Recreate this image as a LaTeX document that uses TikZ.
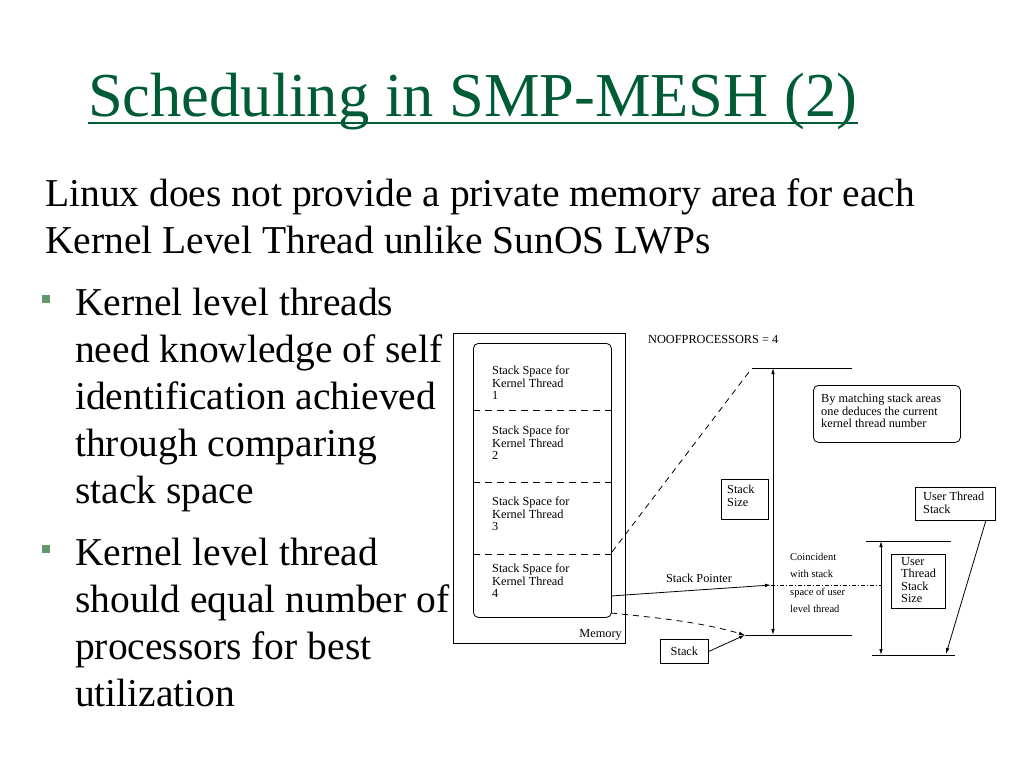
\documentclass[tikz,border=0pt]{standalone}
\usepackage{fontspec}
\setmainfont{Liberation Serif}
\usetikzlibrary{arrows.meta}
\definecolor{titlegreen}{RGB}{0,92,52}
\definecolor{bulletgreen}{RGB}{100,150,110}
\tikzset{
  ttl/.style={anchor=base west, inner sep=0pt, text=titlegreen, font=\fontsize{62.5}{70}\selectfont},
  body/.style={anchor=base west, inner sep=0pt, font=\fontsize{39.5}{47}\selectfont},
  bul/.style={fill=bulletgreen, minimum size=8.5pt, inner sep=0pt},
  dtext/.style={anchor=north west, inner sep=0pt, align=left, font=\fontsize{12.3}{12.5}\selectfont},
  dbox/.style={draw, line width=0.8pt, inner sep=0pt, anchor=north west},
  dline/.style={line width=0.8pt},
  tip/.style={-{Latex[length=6pt,width=3.5pt]}},
  ttip/.style={{Latex[length=6pt,width=3.5pt]}-{Latex[length=6pt,width=3.5pt]}},
}
\begin{document}
\begin{tikzpicture}[x=1pt,y=-1pt]
\useasboundingbox (0,0) rectangle (1024,768);
% title
\node[ttl] (title) at (88,116) {Scheduling in SMP-MESH (2)};
\coordinate (ul1) at (88,123);
\draw[titlegreen, line width=2.5pt] (ul1) -- (ul1 -| title.east);
% subtitle
\node[body] (sub1) at (45,206) {Linux does not provide a private memory area for each};
\node[body] (sub2) at (45,253) {Kernel Level Thread unlike SunOS LWPs};
% bullets
\node[bul] (b1) at (46,299) {};
\node[body] (t11) at (75,315) {Kernel level threads};
\node[body] (t12) at (75,362) {need knowledge of self};
\node[body] (t13) at (75,409) {identification achieved};
\node[body] (t14) at (75,456) {through comparing};
\node[body] (t15) at (75,503) {stack space};
\node[bul] (b2) at (46,549) {};
\node[body] (t21) at (75,565) {Kernel level thread};
\node[body] (t22) at (75,612) {should equal number of};
\node[body] (t23) at (75,659) {processors for best};
\node[body] (t24) at (75,706) {utilization};
% memory box
\node[dbox, minimum width=172pt, minimum height=310pt] (mem) at (453,333) {};
\node[dtext, anchor=south east] (memlbl) at (622,640) {Memory};
\node[dbox, rounded corners=5pt, minimum width=138pt, minimum height=274pt] (inner) at (473,343) {};
\draw[dline, dashed, dash pattern=on 7pt off 5pt] (473,410) -- (611,410);
\draw[dline, dashed, dash pattern=on 7pt off 5pt] (473,482) -- (611,482);
\draw[dline, dashed, dash pattern=on 7pt off 5pt] (473,554) -- (611,554);
\node[dtext] (k1) at (492,366) {Stack Space for\\Kernel Thread\\1};
\node[dtext] (k2) at (492,426) {Stack Space for\\Kernel Thread\\2};
\node[dtext] (k3) at (492,497) {Stack Space for\\Kernel Thread\\3};
\node[dtext] (k4) at (492,564) {Stack Space for\\Kernel Thread\\4};
% right part
\node[dtext] (nop) at (648,335) {NOOFPROCESSORS = 4};
\coordinate (d1) at (612,552);
\coordinate (topL) at (752,368);
\coordinate (topR) at (852,368);
\coordinate (botL) at (745,635);
\coordinate (botR) at (852,635);
\coordinate (vt) at (773,368);
\coordinate (vb) at (773,635);
\draw[dline, dashed, dash pattern=on 6pt off 5pt] (d1) -- (topL);
\draw[dline] (topL) -- (topR);
\draw[dline] (botL) -- (botR);
\draw[dline, ttip] (vt) -- (vb);
\node[dbox, minimum width=47pt, minimum height=40pt] (ss) at (721,479) {};
\node[dtext] (sstxt) at (727,485) {Stack\\Size};
\node[dbox, rounded corners=5pt, minimum width=147pt, minimum height=57pt] (match) at (813,385) {};
\node[dtext] (matchtxt) at (821,394) {By matching stack areas\\one deduces the current\\kernel thread number};
% stack pointer
\coordinate (sp0) at (611,596);
\coordinate (sp1) at (625,595);
\coordinate (spend) at (771,585);
\draw[dline] (sp0) -- (sp1);
\draw[dline, tip] (sp1) -- (spend);
\node[dtext, anchor=south] (splbl) at (699,583) {Stack Pointer};
\coordinate (dd) at (882,585);
\draw[line width=0.6pt, dash pattern=on 4pt off 2pt on 1pt off 2pt] (spend) -- (dd);
\node[dtext, font=\fontsize{10.5}{17.3}\selectfont] (coin) at (790,553) {Coincident\\with stack\\space of user\\level thread};
% stack dashed
\coordinate (st0) at (611,613);
\draw[dline, dashed, dash pattern=on 6pt off 5pt, tip] (st0) .. controls (660,618) and (700,622) .. (botL);
\node[dbox, minimum width=48pt, minimum height=24pt] (stk) at (660,639) {};
\node[dtext, anchor=center] (stktxt) at (stk.center) {Stack};
\draw[dline, tip] (stk.east) -- (botL);
% user thread stack
\node[dbox, minimum width=80pt, minimum height=33pt] (uts) at (915,487) {};
\node[dtext] (utstxt) at (923,492) {User Thread\\Stack};
\coordinate (rtL) at (866,541);
\coordinate (rtR) at (951,541);
\coordinate (rbL) at (872,655);
\coordinate (rbR) at (955,655);
\coordinate (rvt) at (881,541);
\coordinate (rvb) at (881,655);
\coordinate (rtip) at (946,654);
\draw[dline] (rtL) -- (rtR);
\draw[dline] (rbL) -- (rbR);
\draw[dline, ttip] (rvt) -- (rvb);
\node[dbox, minimum width=54pt, minimum height=54pt] (utss) at (891,554) {};
\node[dtext] (utsstxt) at (901,557) {User\\Thread\\Stack\\Size};
\draw[dline, tip] (uts.south east) ++(-10,0) coordinate (utsb) -- (rtip);
\end{tikzpicture}
\end{document}
